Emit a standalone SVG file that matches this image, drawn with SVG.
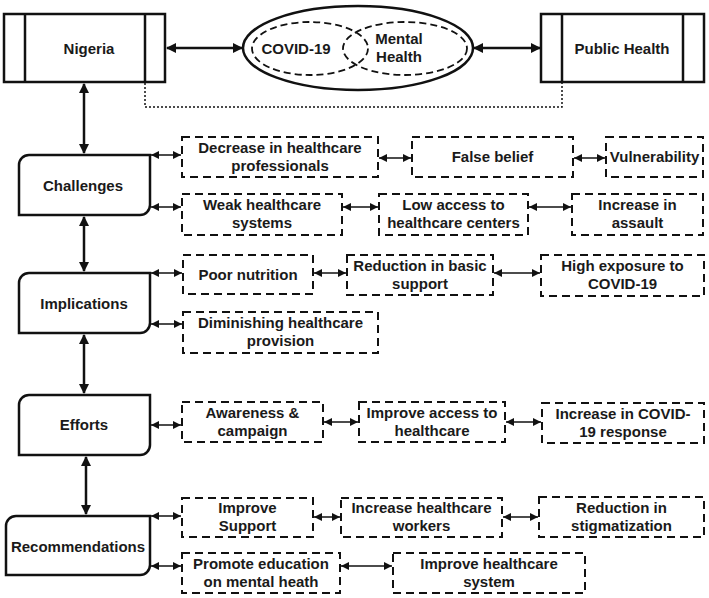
<svg xmlns="http://www.w3.org/2000/svg" width="709" height="598" viewBox="0 0 709 598">
<style>
text{font-family:"Liberation Sans",Arial,sans-serif;font-weight:bold;font-size:15px;fill:#1a1a1a;text-anchor:middle}
.solid{fill:#fff;stroke:#111;stroke-width:2.5}
.dash{fill:#fff;stroke:#111;stroke-width:2;stroke-dasharray:8,5}
.ell{fill:none;stroke:#111;stroke-width:1.8;stroke-dasharray:7,4}
.thin{fill:none;stroke:#111;stroke-width:1.5;marker-start:url(#ah);marker-end:url(#ah)}
.thick{fill:none;stroke:#111;stroke-width:2.5;marker-start:url(#ahb);marker-end:url(#ahb)}
.dot{fill:none;stroke:#111;stroke-width:1.5;stroke-dasharray:2,2}
.bar{stroke:#111;stroke-width:2.5}
</style>
<defs>
<marker id="ah" markerUnits="userSpaceOnUse" markerWidth="10" markerHeight="10" refX="8" refY="4" orient="auto-start-reverse"><path d="M0,0 L8,4 L0,8 Z" fill="#111"/></marker>
<marker id="ahb" markerUnits="userSpaceOnUse" markerWidth="12" markerHeight="12" refX="9" refY="5" orient="auto-start-reverse"><path d="M0,0 L10,5 L0,10 Z" fill="#111"/></marker>
</defs>
<rect width="709" height="598" fill="#fff"/>
<g id="connectors">
<line class="thick" x1="167" y1="48" x2="242" y2="48"/>
<line class="thick" x1="474" y1="48" x2="540" y2="48"/>
<polyline class="dot" points="145,83 145,107 562,107 562,83"/>
<line class="thick" x1="84" y1="84" x2="84" y2="153"/>
<line class="thick" x1="84" y1="217" x2="84" y2="271"/>
<line class="thick" x1="84" y1="335" x2="84" y2="393"/>
<line class="thick" x1="86" y1="457" x2="86" y2="514"/>
<line class="thin" x1="151" y1="155" x2="181" y2="155"/>
<line class="thin" x1="151" y1="207" x2="181" y2="207"/>
<line class="thin" x1="379" y1="158" x2="411" y2="158"/>
<line class="thin" x1="574" y1="158" x2="605" y2="158"/>
<line class="thin" x1="343" y1="207" x2="378" y2="207"/>
<line class="thin" x1="529" y1="207" x2="571" y2="207"/>
<line class="thin" x1="151" y1="273" x2="182" y2="273"/>
<line class="thin" x1="151" y1="324" x2="182" y2="324"/>
<line class="thin" x1="314" y1="273" x2="346" y2="273"/>
<line class="thin" x1="494" y1="273" x2="540" y2="273"/>
<line class="thin" x1="151" y1="425" x2="181" y2="425"/>
<line class="thin" x1="324" y1="422" x2="358" y2="422"/>
<line class="thin" x1="506" y1="422" x2="541" y2="422"/>
<line class="thin" x1="151" y1="516" x2="181" y2="516"/>
<line class="thin" x1="151" y1="566" x2="181" y2="566"/>
<line class="thin" x1="314" y1="517" x2="340" y2="517"/>
<line class="thin" x1="503" y1="517" x2="538" y2="517"/>
<line class="thin" x1="341" y1="566" x2="392" y2="566"/>
</g>
<g id="nigeria">
<rect class="solid" x="4" y="14" width="161" height="68"/>
<line class="bar" x1="25" y1="14" x2="25" y2="82"/>
<line class="bar" x1="145" y1="14" x2="145" y2="82"/>
<text x="89" y="54">Nigeria</text>
</g>
<g id="covid-mental">
<ellipse cx="358" cy="48" rx="115" ry="42" fill="#fff" stroke="#111" stroke-width="2.5"/>
<ellipse class="ell" cx="310" cy="48.5" rx="58" ry="26.5"/>
<ellipse class="ell" cx="405" cy="48.5" rx="62" ry="26.5"/>
<text x="296" y="54">COVID-19</text>
<text x="399" y="44">Mental</text>
<text x="399" y="62">Health</text>
</g>
<g id="public-health">
<rect class="solid" x="541" y="14" width="163" height="68"/>
<line class="bar" x1="562" y1="14" x2="562" y2="82"/>
<line class="bar" x1="683" y1="14" x2="683" y2="82"/>
<text x="622" y="54">Public Health</text>
</g>
<g id="challenges">
<path class="solid" d="M29,155 H150 V205 A10,10 0 0 1 140,215 H19 V165 A10,10 0 0 1 29,155 Z"/>
<text x="83" y="191">Challenges</text>
</g>
<g id="decrease"><rect class="dash" x="182" y="137" width="196" height="40"/><text x="280" y="153">Decrease in healthcare</text><text x="280" y="171">professionals</text></g>
<g id="false-belief"><rect class="dash" x="412" y="137" width="161" height="40"/><text x="492.5" y="162">False belief</text></g>
<g id="vulnerability"><rect class="dash" x="606" y="137" width="97" height="40"/><text x="654.5" y="162">Vulnerability</text></g>
<g id="weak"><rect class="dash" x="182" y="194" width="160" height="41"/><text x="262" y="210">Weak healthcare</text><text x="262" y="228">systems</text></g>
<g id="low-access"><rect class="dash" x="379" y="194" width="149" height="41"/><text x="453.5" y="210">Low access to</text><text x="453.5" y="228">healthcare centers</text></g>
<g id="assault"><rect class="dash" x="572" y="194" width="131" height="41"/><text x="637.5" y="210">Increase in</text><text x="637.5" y="228">assault</text></g>
<g id="implications">
<path class="solid" d="M29,273 H150 V323 A10,10 0 0 1 140,333 H19 V283 A10,10 0 0 1 29,273 Z"/>
<text x="84" y="309">Implications</text>
</g>
<g id="poor-nutrition"><rect class="dash" x="183" y="255" width="130" height="39"/><text x="248" y="280">Poor nutrition</text></g>
<g id="basic-support"><rect class="dash" x="347" y="255" width="146" height="40"/><text x="420" y="271">Reduction in basic</text><text x="420" y="289">support</text></g>
<g id="high-exposure"><rect class="dash" x="541" y="255" width="163" height="41"/><text x="622.5" y="271">High exposure to</text><text x="622.5" y="289">COVID-19</text></g>
<g id="diminishing"><rect class="dash" x="183" y="312" width="195" height="41"/><text x="280.5" y="328">Diminishing healthcare</text><text x="280.5" y="346">provision</text></g>
<g id="efforts">
<path class="solid" d="M29,395 H150 V445 A10,10 0 0 1 140,455 H19 V405 A10,10 0 0 1 29,395 Z"/>
<text x="84" y="430">Efforts</text>
</g>
<g id="awareness"><rect class="dash" x="182" y="402" width="141" height="40"/><text x="252.5" y="418">Awareness &amp;</text><text x="252.5" y="436">campaign</text></g>
<g id="improve-access"><rect class="dash" x="359" y="402" width="146" height="40"/><text x="432" y="418">Improve access to</text><text x="432" y="436">healthcare</text></g>
<g id="covid-response"><rect class="dash" x="542" y="403" width="162" height="40"/><text x="623" y="419">Increase in COVID-</text><text x="623" y="437">19 response</text></g>
<g id="recommendations">
<path class="solid" d="M16,516 H150 V565 A10,10 0 0 1 140,575 H6 V526 A10,10 0 0 1 16,516 Z"/>
<text x="78" y="552">Recommendations</text>
</g>
<g id="improve-support"><rect class="dash" x="182" y="498" width="131" height="39"/><text x="247.5" y="513">Improve</text><text x="247.5" y="531">Support</text></g>
<g id="workers"><rect class="dash" x="341" y="498" width="161" height="39"/><text x="421.5" y="513">Increase healthcare</text><text x="421.5" y="531">workers</text></g>
<g id="stigmatization"><rect class="dash" x="539" y="497" width="165" height="40"/><text x="621.5" y="513">Reduction in</text><text x="621.5" y="531">stigmatization</text></g>
<g id="promote-education"><rect class="dash" x="182" y="553" width="158" height="40"/><text x="261" y="569">Promote education</text><text x="261" y="587">on mental heath</text></g>
<g id="improve-system"><rect class="dash" x="393" y="553" width="192" height="40"/><text x="489" y="569">Improve healthcare</text><text x="489" y="587">system</text></g>
</svg>
